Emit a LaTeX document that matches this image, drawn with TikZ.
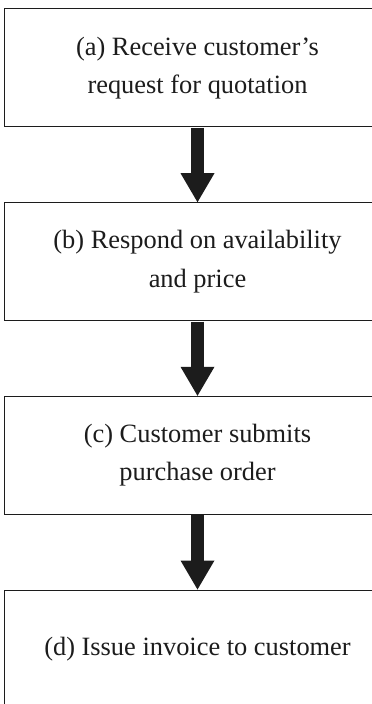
\documentclass[tikz,border=0pt]{standalone}
\usepackage{fontspec}
\setmainfont{Liberation Serif}
\usetikzlibrary{arrows.meta}
\definecolor{ink}{RGB}{28,28,28}
\tikzset{
  stagebox/.style={draw=ink, line width=1pt, minimum width=387pt, minimum height=118pt,
    align=center, inner sep=0pt, font=\fontsize{26.4}{38.5}\selectfont, text=ink},
  flowarrow/.style={draw=ink, line width=13pt,
    -{Triangle[width=34pt,length=29pt,line width=0pt]}, shorten <=0.5pt}
}
\begin{document}
\begin{tikzpicture}[x=1pt,y=-1pt]
  \useasboundingbox (0,0) rectangle (372,704);
  \clip (0,0) rectangle (372,704);
  \fill[white] (0,0) rectangle (372,704);
  \node[stagebox] (a) at (197.5,67.9) {(a) Receive customer’s\\request for quotation};
  \node[stagebox] (b) at (197.5,261.7) {(b) Respond on availability\\and price};
  \node[stagebox] (c) at (197.5,455.3) {(c) Customer submits\\purchase order};
  \node[stagebox] (d) at (197.5,649) {(d) Issue invoice to customer};
  \draw[flowarrow] (a.south) -- (b.north);
  \draw[flowarrow] (b.south) -- (c.north);
  \draw[flowarrow] (c.south) -- (d.north);
\end{tikzpicture}
\end{document}
